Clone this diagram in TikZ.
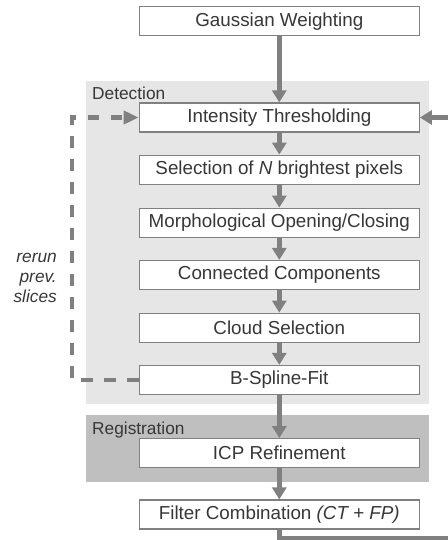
\documentclass[tikz,border=0pt]{standalone}
\usepackage{fontspec}
\setmainfont{Liberation Sans}
\usetikzlibrary{arrows.meta}
\definecolor{linegray}{RGB}{128,128,128}
\definecolor{txtgray}{RGB}{55,55,55}
\definecolor{detbg}{RGB}{230,230,230}
\definecolor{regbg}{RGB}{191,191,191}
\tikzset{
  stepbox/.style={draw=linegray, line width=1.2pt, fill=white, minimum width=280pt, minimum height=29pt,
    inner sep=0pt, text=txtgray, font=\fontsize{18.8}{22}\selectfont},
  grouplabel/.style={anchor=base west, inner sep=0pt, text=txtgray, font=\fontsize{17.3}{20}\selectfont},
  sidelabel/.style={anchor=base east, inner sep=0pt, text=txtgray, font=\fontsize{17.3}{20}\selectfont\itshape},
  flow/.style={draw=linegray, line width=4.5pt, -{Triangle[length=12pt,width=14pt]}},
  loopback/.style={draw=linegray, line width=4.8pt, dash pattern=on 11.5pt off 11.5pt, -{Triangle[length=15pt,width=13pt]}},
}
\begin{document}
\begin{tikzpicture}[x=1pt,y=-1pt]
\useasboundingbox (0,0) rectangle (447,540);
% group backgrounds
\fill[detbg] (86,81) rectangle (429,404);
\fill[regbg] (86,415) rectangle (429,482);
\node[grouplabel] (detlabel) at (92,100) {Detection};
\node[grouplabel] (reglabel) at (92,434) {Registration};
% steps
\node[stepbox] (gauss) at (279.3,21.3) {Gaussian Weighting};
\node[stepbox] (thresh) at (279.3,117.5) {Intensity Thresholding};
\node[stepbox] (select) at (279.3,169.7) {Selection of \textit{N} brightest pixels};
\node[stepbox] (morph) at (279.3,222.7) {Morphological Opening/Closing};
\node[stepbox] (conn) at (279.3,275) {Connected Components};
\node[stepbox] (cloud) at (279.3,327.7) {Cloud Selection};
\node[stepbox] (bspline) at (279.3,380) {B-Spline-Fit};
\node[stepbox] (icp) at (279.3,453.2) {ICP Refinement};
\node[stepbox] (filter) at (279.3,514.5) {Filter Combination \textit{(CT + FP)}};
% side label
\node[sidelabel] (rerun) at (57,262.7) {rerun};
\node[sidelabel] (prev) at (57,282.7) {prev.};
\node[sidelabel] (slices) at (57,302.7) {slices};
% flow arrows
\draw[flow] (gauss) -- (thresh);
\draw[flow] (thresh) -- (select);
\draw[flow] (select) -- (morph);
\draw[flow] (morph) -- (conn);
\draw[flow] (conn) -- (cloud);
\draw[flow] (cloud) -- (bspline);
\draw[flow] (bspline) -- (icp);
\draw[flow] (icp) -- (filter);
% feedback from filter to thresholding (leaves the picture on the right)
\coordinate (fbdown) at (279.3,538);
\coordinate (fbright) at (470,538);
\coordinate (fbup) at (470,117.5);
\draw[flow] (filter.south) -- (fbdown) -- (fbright) -- (fbup) -- (thresh.east);
% rerun previous slices loop
\coordinate (loopbottom) at (72,380);
\coordinate (looptop) at (72,117.5);
\draw[loopback] (bspline.west) -- (loopbottom) -- (looptop) -- (thresh.west);
\end{tikzpicture}
\end{document}
